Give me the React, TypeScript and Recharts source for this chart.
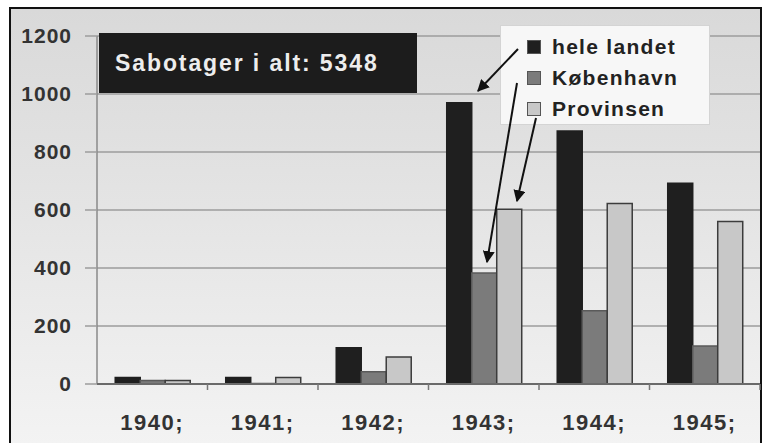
import { BarChart, Bar, XAxis, YAxis, CartesianGrid, Legend } from 'recharts'

const years = ['1940;', '1941;', '1942;', '1943;', '1944;', '1945;']
const heleLandet = [22, 22, 125, 970, 872, 692]
const koebenhavn = [12, 2, 42, 383, 253, 131]
const provinsen = [12, 22, 93, 603, 622, 560]
const yTicks = [0, 200, 400, 600, 800, 1000, 1200]

const series = [
  { key: 'hele landet', fill: '#1f1f1f', stroke: '#1f1f1f' },
  { key: 'København', fill: '#7b7b7b', stroke: '#5a5a5a' },
  { key: 'Provinsen', fill: '#c8c8c8', stroke: '#3c3c3c' },
]

const data = years.map((year, i) => ({
  year,
  'hele landet': heleLandet[i],
  København: koebenhavn[i],
  Provinsen: provinsen[i],
}))

const W = 769
const H = 443
const LEFT = 97
const RIGHT = 9
const FONT = '"Liberation Sans", Arial, sans-serif'
const halfBand = (W - LEFT - RIGHT) / years.length / 2

function XTick(props: any) {
  const { x, y, payload } = props
  return (
    <g>
      <line x1={x + halfBand} y1={y} x2={x + halfBand} y2={y + 6} stroke="#777" strokeWidth={1.5} />
      <text
        x={x}
        y={y + 46}
        textAnchor="middle"
        fontFamily={FONT}
        fontWeight="bold"
        fontSize={22}
        letterSpacing={1.5}
        fill="#333"
      >
        {payload.value}
      </text>
    </g>
  )
}

function LegendBox() {
  return (
    <div
      style={{
        width: 210,
        height: 100,
        background: '#f7f7f7',
        border: '1px solid #d4d4d4',
        boxSizing: 'border-box',
        paddingTop: 5,
        paddingLeft: 26,
      }}
    >
      {series.map((s) => (
        <div key={s.key} style={{ display: 'flex', alignItems: 'center', height: 31 }}>
          <span
            style={{
              width: 12,
              height: 12,
              background: s.fill,
              border: '1px solid #555',
              marginRight: 11,
            }}
          />
          <span
            style={{
              fontFamily: FONT,
              fontWeight: 'bold',
              fontSize: 21,
              letterSpacing: 1.3,
              color: '#222',
            }}
          >
            {s.key}
          </span>
        </div>
      ))}
    </div>
  )
}

export default function App() {
  return (
    <div style={{ position: 'absolute', left: 0, top: 0, width: W, height: H, background: '#fff', overflow: 'hidden' }}>
      <div
        style={{
          position: 'absolute',
          left: 9,
          top: 7,
          width: 753,
          height: 440,
          border: '2px solid #111',
          boxSizing: 'border-box',
          background: 'linear-gradient(to bottom, #d9d9d9 0%, #e4e4e4 45%, #f3f3f3 100%)',
        }}
      />
      <div style={{ position: 'absolute', left: 0, top: 0 }}>
        <BarChart
          width={W}
          height={H}
          data={data}
          margin={{ top: 36, right: RIGHT, bottom: 0, left: 0 }}
          barCategoryGap="16.5%"
          barGap={0}
        >
          <CartesianGrid vertical={false} stroke="#9c9c9c" strokeWidth={1.5} />
          <YAxis
            domain={[0, 1200]}
            ticks={yTicks}
            width={LEFT}
            tickSize={12}
            tickMargin={13}
            tickLine={{ stroke: '#9c9c9c', strokeWidth: 1.5 }}
            axisLine={{ stroke: '#8a8a8a', strokeWidth: 1.5 }}
            tick={{ fontFamily: FONT, fontWeight: 'bold', fontSize: 21, letterSpacing: 1, fill: '#333' }}
            interval={0}
          />
          <XAxis
            dataKey="year"
            height={59}
            tickSize={0}
            tickMargin={0}
            interval={0}
            axisLine={{ stroke: '#6a6a6a', strokeWidth: 2 }}
            tick={<XTick />}
          />
          <Legend
            layout="vertical"
            align="center"
            verticalAlign="middle"
            wrapperStyle={{ left: 500, top: 25, width: 210, height: 100 }}
            content={() => <LegendBox />}
          />
          {series.map((s) => (
            <Bar
              key={s.key}
              dataKey={s.key}
              fill={s.fill}
              stroke={s.stroke}
              strokeWidth={1.5}
              isAnimationActive={false}
            />
          ))}
        </BarChart>
      </div>
      <div
        style={{
          position: 'absolute',
          left: 99,
          top: 33,
          width: 318,
          height: 60,
          background: '#1c1c1c',
          color: '#ededed',
          fontFamily: FONT,
          fontWeight: 'bold',
          fontSize: 23,
          letterSpacing: 1.9,
          lineHeight: '60px',
          paddingLeft: 16,
          boxSizing: 'border-box',
          whiteSpace: 'nowrap',
        }}
      >
        Sabotager i alt: 5348
      </div>
      <svg style={{ position: 'absolute', left: 0, top: 0 }} width={W} height={H}>
        <defs>
          <marker id="ah" viewBox="0 0 10 10" refX="9" refY="5" markerWidth="6" markerHeight="6" orient="auto">
            <path d="M0,0 L10,5 L0,10 z" fill="#111" />
          </marker>
        </defs>
        <line x1={518} y1={49} x2={478} y2={91} stroke="#111" strokeWidth={2} markerEnd="url(#ah)" />
        <line x1={517} y1={83} x2={487} y2={262} stroke="#111" strokeWidth={2} markerEnd="url(#ah)" />
        <line x1={536} y1={118} x2={517} y2={201} stroke="#111" strokeWidth={2} markerEnd="url(#ah)" />
      </svg>
    </div>
  )
}
